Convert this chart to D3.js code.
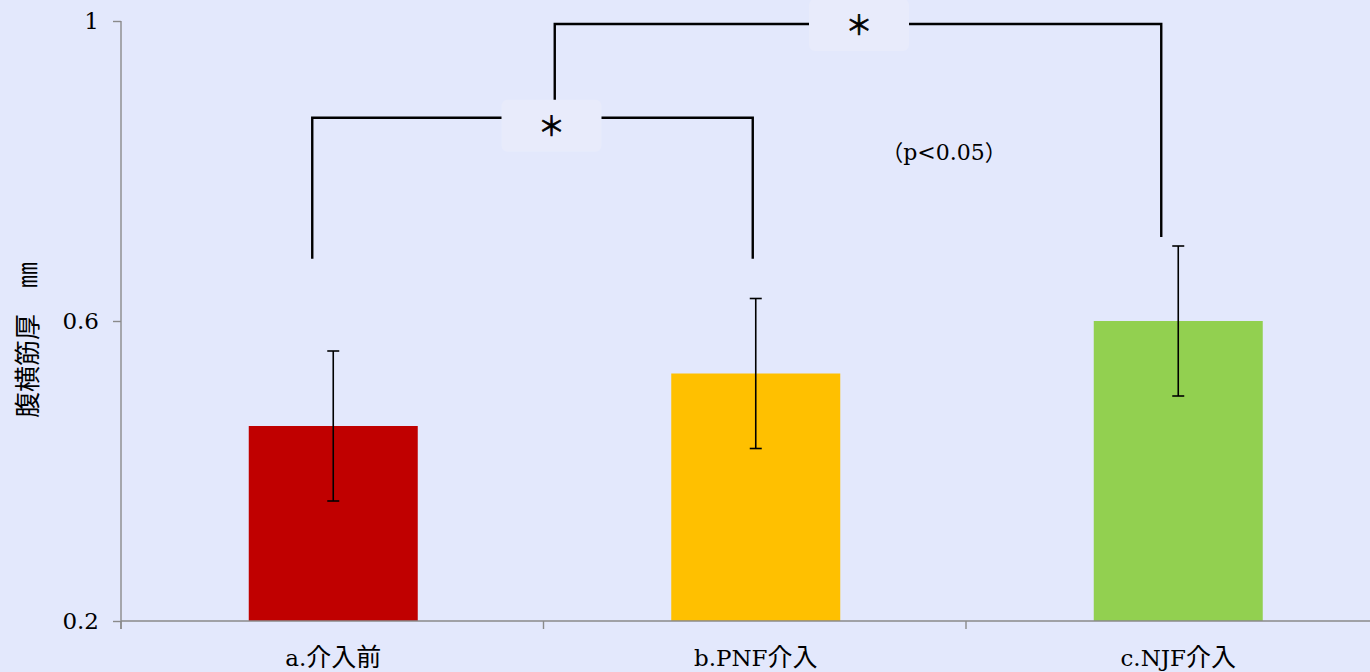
<!DOCTYPE html>
<html>
<head>
<meta charset="utf-8">
<script src="https://cdn.jsdelivr.net/npm/d3@7"></script>
<style>
  html, body { margin: 0; padding: 0; background: #E3E8FC; }
  svg { display: block; }
</style>
</head>
<body>
<svg id="chart" width="1370" height="672"></svg>
<script>
// Transversus abdominis thickness (mm) by condition
const categories = ["a.介入前", "b.PNF介入", "c.NJF介入"];
const means = [0.46, 0.53, 0.60];
const sds = [0.10, 0.10, 0.10];
const barColors = ["#C00000", "#FFC000", "#92D050"];
const yTicks = [0.2, 0.6, 1];
const yTitle = "腹横筋厚　㎜";
const pNote = "（p<0.05）";
// significance brackets: categories joined, top value, foot values, label placement
const brackets = [
  { from: 0, to: 1, top: 0.871, footL: 0.683, footR: 0.683, dxL: -21, dxR: -3, labelDx: 18, labelDy: 0, label: "＊" },
  { from: 1, to: 2, top: 0.996, footL: 0.895, footR: 0.712, dxL: -201, dxR: -17, labelDx: 0, labelDy: -7, label: "＊" }
];

const W = 1370, H = 672;
const svg = d3.select("#chart");
const latin = "'DejaVu Serif', 'Liberation Serif', serif";
const cjk = "'Noto Sans CJK JP', 'Noto Sans CJK SC', sans-serif";

const x = d3.scaleBand().domain(categories).range([121, 1388.5]).paddingInner(0.6).paddingOuter(0.3);
const y = d3.scaleLinear().domain([0.2, 1]).range([621, 21]);
const axisColor = "#8A8A8A";

// bars
svg.append("g").selectAll("rect").data(categories).join("rect")
  .attr("x", d => x(d) + 1)
  .attr("y", (d, i) => y(means[i]))
  .attr("width", x.bandwidth())
  .attr("height", (d, i) => y(0.2) - y(means[i]))
  .attr("fill", (d, i) => barColors[i]);

// error bars
const eb = svg.append("g").attr("stroke", "#000").attr("stroke-width", 1.6);
categories.forEach((c, i) => {
  const cx = x(c) + 1 + x.bandwidth() / 2;
  const hi = y(means[i] + sds[i]), lo = y(means[i] - sds[i]);
  eb.append("line").attr("x1", cx).attr("x2", cx).attr("y1", hi).attr("y2", lo);
  eb.append("line").attr("x1", cx - 6).attr("x2", cx + 6).attr("y1", hi).attr("y2", hi);
  eb.append("line").attr("x1", cx - 6).attr("x2", cx + 6).attr("y1", lo).attr("y2", lo);
});

// y axis
const yAxis = svg.append("g").attr("transform", "translate(121,0)")
  .call(d3.axisLeft(y).tickValues(yTicks).tickSize(8).tickPadding(14).tickFormat(d3.format("")));
yAxis.select(".domain").attr("stroke", axisColor).attr("stroke-width", 1.4).attr("d", "M0,21V629");
yAxis.selectAll(".tick line").attr("stroke", axisColor).attr("stroke-width", 1.4);
yAxis.selectAll(".tick text").attr("font-family", latin).attr("font-size", 23).attr("fill", "#000");

// x axis line and category boundary ticks
const xg = svg.append("g");
xg.append("line").attr("x1", 121).attr("x2", W).attr("y1", y(0.2)).attr("y2", y(0.2))
  .attr("stroke", axisColor).attr("stroke-width", 1.6);
const bounds = categories.map((c, i) => x.range()[0] + i * x.step());
xg.selectAll("line.tk").data(bounds).join("line").attr("class", "tk")
  .attr("x1", d => d).attr("x2", d => d).attr("y1", y(0.2)).attr("y2", y(0.2) + 8)
  .attr("stroke", axisColor).attr("stroke-width", 1.4);

// mixed-script labels: Latin runs in serif, CJK runs in the CJK face
function mixed(sel, str, latinSize, cjkSize) {
  const runs = str.match(/[\u3000-\u9fff\uff00-\uffef]+|[^\u3000-\u9fff\uff00-\uffef]+/g);
  runs.forEach(r => {
    const isCjk = /[\u3000-\u9fff\uff00-\uffef]/.test(r);
    sel.append("tspan").text(r)
      .attr("font-family", isCjk ? cjk : latin)
      .attr("font-size", isCjk ? cjkSize : latinSize);
  });
}

categories.forEach(c => {
  const t = xg.append("text").attr("x", x(c) + 1 + x.bandwidth() / 2).attr("y", 666)
    .attr("text-anchor", "middle").attr("fill", "#000");
  mixed(t, c, 23, 25);
});

// y title
const yt = svg.append("text").attr("transform", "translate(37,340) rotate(-90)")
  .attr("text-anchor", "middle").attr("fill", "#000");
mixed(yt, yTitle, 22, 26);

// significance brackets
brackets.forEach(b => {
  const xl = x(categories[b.from]) + 1 + x.bandwidth() / 2 + b.dxL;
  const xr = x(categories[b.to]) + 1 + x.bandwidth() / 2 + b.dxR;
  const yTop = y(b.top);
  svg.append("path")
    .attr("d", `M${xl},${y(b.footL)}V${yTop}H${xr}V${y(b.footR)}`)
    .attr("fill", "none").attr("stroke", "#000").attr("stroke-width", 2.4);
  const mx = (xl + xr) / 2 + 1 + b.labelDx;
  const my = yTop + b.labelDy;
  svg.append("rect").attr("x", mx - 50).attr("y", my - 18).attr("width", 100).attr("height", 52)
    .attr("rx", 6).attr("fill", "#E8EBFB");
  svg.append("text").attr("x", mx).attr("y", my + 18).attr("text-anchor", "middle")
    .attr("font-family", cjk).attr("font-size", 27).attr("fill", "#000")
    .attr("stroke", "#000").attr("stroke-width", 0.7).text(b.label);
});

// significance note
const pn = svg.append("text").attr("x", 944).attr("y", 160).attr("text-anchor", "middle").attr("fill", "#000");
mixed(pn, pNote, 22, 22);
</script>
</body>
</html>
